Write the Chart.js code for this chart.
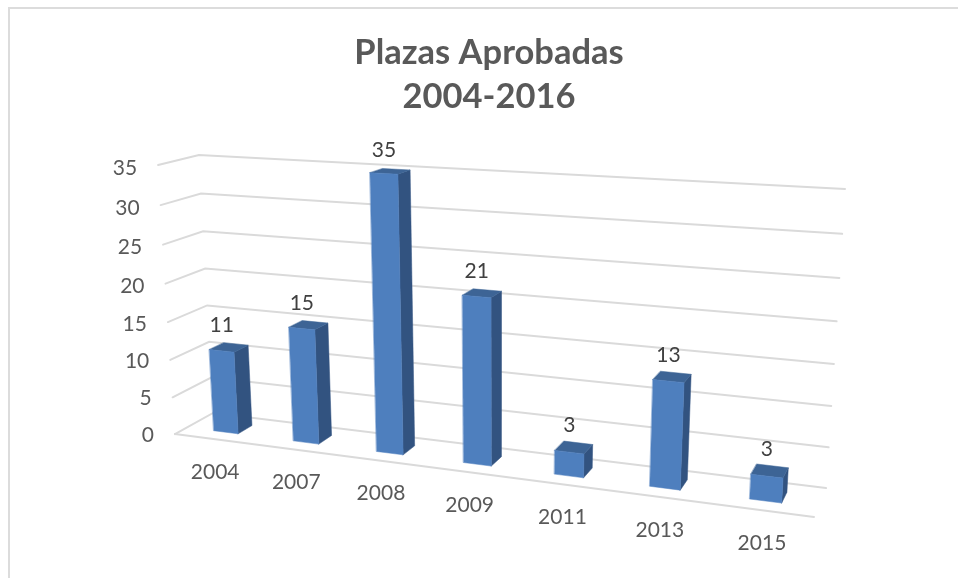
<!DOCTYPE html>
<html>
<head>
<meta charset="utf-8">
<style>
html,body{margin:0;padding:0;background:#fff;overflow:hidden}
#frame{position:absolute;left:8px;top:7px;right:0;bottom:0;border-left:2px solid #dcdcdc;border-top:2px solid #dcdcdc}
#wrap{position:absolute;left:0;top:0;width:958px;height:578px}
</style>
<script src="https://cdn.jsdelivr.net/npm/chart.js@4"></script>
</head>
<body>
<div id="frame"></div>
<div id="wrap"><canvas id="c" width="958" height="578"></canvas></div>
<script>
const categories = ['2004','2007','2008','2009','2011','2013','2015'];
const values = [11,15,35,21,3,13,3];
const titleLines = ['Plazas Aprobadas','2004-2016'];

// Camera fit: plot-plane coordinates (u across, v up, d toward viewer) -> screen
const cameraFit = [
  [0,0,1,175,434],[0,1,1,158,165],[0,0,0,213,413],[0,1,0,199,155],
  [1,0,0,826,488],[1,1,0,845,189],[1,0,1,814,517]
];
const depthFront = 0.69, depthBack = 0.31;

function solveCamera(pts){
  const A=[],B=[];
  pts.forEach(([u,v,d,x,y])=>{
    A.push([u,v,d,1,0,0,0,0,-x*u,-x*v,-x*d]);B.push(x);
    A.push([0,0,0,0,u,v,d,1,-y*u,-y*v,-y*d]);B.push(y);
  });
  const n=11,M=[];
  for(let i=0;i<n;i++){
    M.push(new Array(n+1).fill(0));
    for(let j=0;j<n;j++)for(let r=0;r<A.length;r++)M[i][j]+=A[r][i]*A[r][j];
    for(let r=0;r<A.length;r++)M[i][n]+=A[r][i]*B[r];
  }
  for(let i=0;i<n;i++){
    let p=i;for(let r=i+1;r<n;r++)if(Math.abs(M[r][i])>Math.abs(M[p][i]))p=r;
    [M[i],M[p]]=[M[p],M[i]];
    for(let r=0;r<n;r++){if(r===i)continue;const f=M[r][i]/M[i][i];for(let c=i;c<=n;c++)M[r][c]-=f*M[i][c];}
  }
  return M.map((row,i)=>row[n]/row[i]);
}
const K=solveCamera(cameraFit);
function project(u,v,d){
  const w=K[8]*u+K[9]*v+K[10]*d+1;
  return {x:(K[0]*u+K[1]*v+K[2]*d+K[3])/w,y:(K[4]*u+K[5]*v+K[6]*d+K[7])/w};
}
function poly(ctx,pts,color){
  ctx.beginPath();pts.forEach((p,i)=>i?ctx.lineTo(p.x,p.y):ctx.moveTo(p.x,p.y));ctx.closePath();
  ctx.fillStyle=color;ctx.fill();
  ctx.strokeStyle=color;ctx.lineWidth=0.5;ctx.stroke();
}
function seg(ctx,a,b){ctx.beginPath();ctx.moveTo(a.x,a.y);ctx.lineTo(b.x,b.y);ctx.stroke();}

const perspective3D={
  id:'perspective3D',
  beforeDatasetsDraw(chart){
    const {ctx,chartArea:ca,scales:{x:xs,y:ys}}=chart;
    const U=px=>(px-ca.left)/(ca.right-ca.left);
    const V=px=>(ca.bottom-px)/(ca.bottom-ca.top);
    ctx.save();
    // grid: side wall + back wall per tick
    ctx.strokeStyle='#dadada';ctx.lineWidth=2;ctx.lineCap='round';
    ys.ticks.forEach(t=>{
      const v=V(ys.getPixelForValue(t.value));
      const a=project(0,v,1),b=project(0,v,0),c=project(1,v,0);
      ctx.beginPath();ctx.moveTo(a.x,a.y);ctx.lineTo(b.x,b.y);ctx.lineTo(c.x,c.y);ctx.stroke();
    });
    seg(ctx,project(0,0,1),project(1,0,1));
    // y tick labels follow the slanted side wall
    ctx.font='21px Lato';ctx.fillStyle='#595959';ctx.textAlign='right';ctx.textBaseline='middle';
    ys.ticks.forEach(t=>{
      const v=V(ys.getPixelForValue(t.value));
      const a=project(0,v,1);
      ctx.fillText(t.label,a.x-21,a.y+2*v+1);
    });
    // x labels
    ctx.textAlign='center';
    categories.forEach((_,i)=>{
      const u=U(xs.getPixelForValue(i));
      const a=project(u,0,1);
      ctx.fillText(xs.getLabelForValue(i),a.x+1,a.y+33);
    });
    // bars from the chart's own bar elements
    const meta=chart.getDatasetMeta(0);
    meta.data.forEach((el,i)=>{
      const p=el.getProps(['x','y','base','width'],true);
      const u0=U(p.x-p.width/2),u1=U(p.x+p.width/2),v=V(p.y),b=V(p.base);
      const f=depthFront,k=depthBack;
      poly(ctx,[project(u1,b,f),project(u1,b,k),project(u1,v,k),project(u1,v,f)],'#325380');
      poly(ctx,[project(u0,v,f),project(u1,v,f),project(u1,v,k),project(u0,v,k)],'#3d6495');
      poly(ctx,[project(u0,b,f),project(u1,b,f),project(u1,v,f),project(u0,v,f)],'#4e7fbe');
      const t=project(U(p.x),v,f);
      ctx.fillStyle='#404040';ctx.textAlign='center';ctx.font='21px Lato';
      ctx.fillText(String(values[i]),t.x,t.y-27+3.5*v);
    });
    ctx.restore();
    return false;
  }
};

new Chart(document.getElementById('c'),{
  type:'bar',
  data:{labels:categories,datasets:[{label:'Plazas',data:values,backgroundColor:'#4e7fbe',barPercentage:0.31,categoryPercentage:1}]},
  options:{
    responsive:false,animation:false,
    layout:{padding:{left:20,right:0,top:0,bottom:144}},
    plugins:{
      legend:{display:false},tooltip:{enabled:false},
      title:{display:true,text:titleLines,color:'#595959',font:{family:'Lato',size:34.5,weight:'bold',lineHeight:1.275},padding:{top:31,bottom:49}}
    },
    scales:{
      x:{grid:{display:false},border:{display:false},ticks:{display:false}},
      y:{min:0,max:35,grid:{display:false},border:{display:false},ticks:{display:false,stepSize:5}}
    }
  },
  plugins:[perspective3D]
});
</script>
</body>
</html>
